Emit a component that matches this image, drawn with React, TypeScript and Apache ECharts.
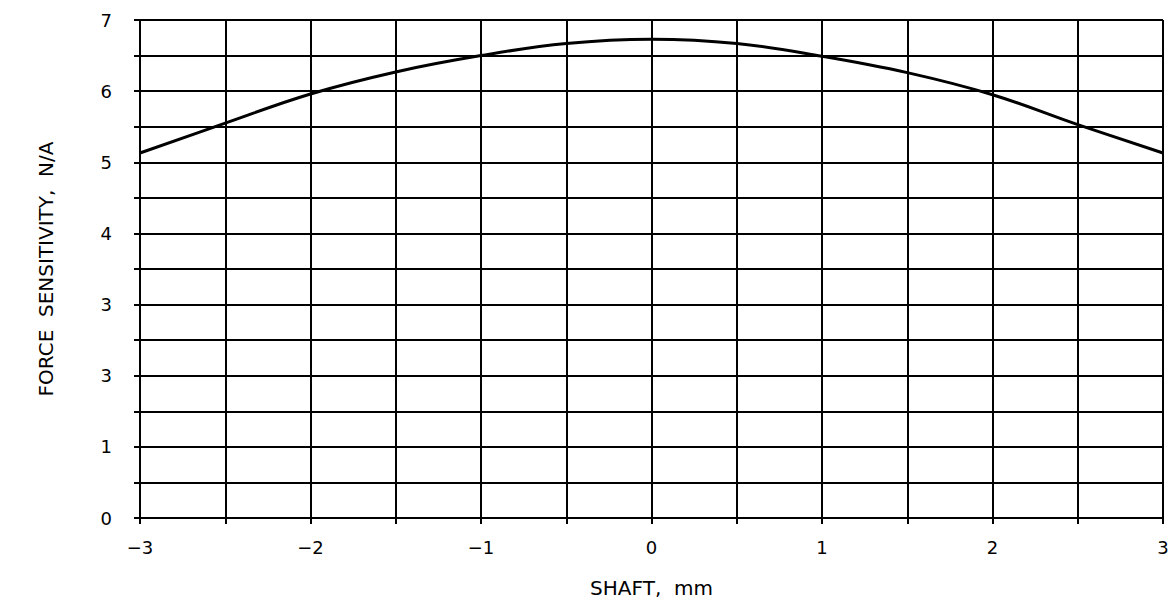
import React, { useEffect, useRef } from "react";
import * as echarts from "echarts";

const shaftMm = [-3, -2.5, -2, -1.5, -1, -0.5, 0, 0.5, 1, 1.5, 2, 2.5, 3];
const sensitivity = [5.13, 5.55, 5.96, 6.27, 6.5, 6.67, 6.73, 6.67, 6.49, 6.26, 5.95, 5.53, 5.13];

const xTickValues = [-3, -2, -1, 0, 1, 2, 3];
const xTickLabels = ["−3", "−2", "−1", "0", "1", "2", "3"];
const yTickValues = [0, 1, 2, 3, 4, 5, 6, 7];
const yTickLabels = ["0", "1", "3", "3", "4", "5", "6", "7"];

const xTitle = "SHAFT,  mm";
const yTitle = "FORCE  SENSITIVITY,  N/A";

const FONT = "'DejaVu Sans', sans-serif";

export default function App() {
  const ref = useRef<HTMLDivElement>(null);
  useEffect(() => {
    if (!ref.current) return;
    const chart = echarts.init(ref.current, null, { renderer: "svg" });
    const lookup = (vals: number[], labels: string[]) => (v: number) => {
      const i = vals.findIndex((t) => Math.abs(t - v) < 1e-9);
      return i >= 0 ? labels[i] : "";
    };
    const line = { color: "#000", width: 2 };
    chart.setOption({
      animation: false,
      backgroundColor: "#fff",
      grid: { left: 140, right: 13, top: 20, bottom: 95, containLabel: false },
      xAxis: {
        type: "value",
        min: -3,
        max: 3,
        interval: 0.5,
        name: xTitle,
        nameLocation: "middle",
        nameGap: 60,
        nameTextStyle: { fontFamily: FONT, fontSize: 20, color: "#000" },
        axisLine: { show: true, onZero: false, lineStyle: line },
        axisTick: { show: true, length: 6, lineStyle: line },
        axisLabel: {
          margin: 20,
          fontFamily: FONT,
          fontSize: 18,
          color: "#000",
          formatter: lookup(xTickValues, xTickLabels),
        },
        splitLine: { show: true, lineStyle: line },
      },
      yAxis: {
        type: "value",
        min: 0,
        max: 7,
        interval: 0.5,
        name: yTitle,
        nameLocation: "middle",
        nameGap: 84,
        nameTextStyle: { fontFamily: FONT, fontSize: 20, color: "#000" },
        axisLine: { show: true, onZero: false, lineStyle: line },
        axisTick: { show: true, length: 6, lineStyle: line },
        axisLabel: {
          margin: 28,
          fontFamily: FONT,
          fontSize: 18,
          color: "#000",
          formatter: lookup(yTickValues, yTickLabels),
        },
        splitLine: { show: true, lineStyle: line },
      },
      series: [
        {
          type: "line",
          data: shaftMm.map((x, i) => [x, sensitivity[i]]),
          smooth: 0.4,
          showSymbol: false,
          lineStyle: { color: "#000", width: 3 },
        },
      ],
    });
    return () => chart.dispose();
  }, []);
  return (
    <div
      ref={ref}
      style={{ position: "absolute", left: 0, top: 0, width: 1176, height: 613 }}
    />
  );
}
